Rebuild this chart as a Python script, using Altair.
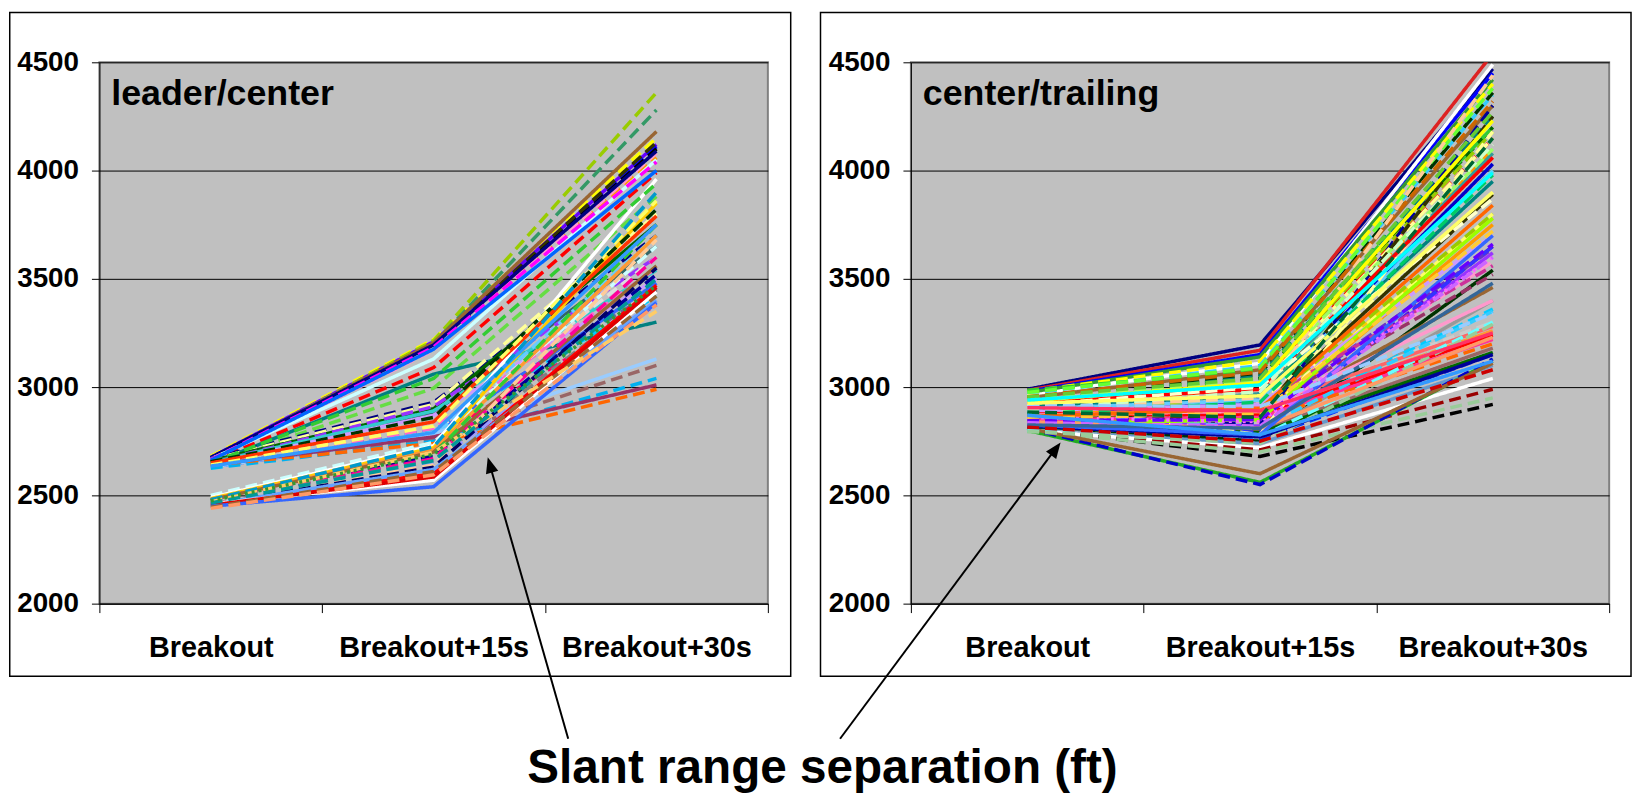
import altair as alt
import pandas as pd

CATEGORIES = ["Breakout", "Breakout+15s", "Breakout+30s"]
Y_TICKS = [2000, 2500, 3000, 3500, 4000, 4500]

# ---- leader/center panel: one value per series at each category ----
LC_BREAKOUT = [2680, 2675, 2670, 2672, 2668, 2665, 2660, 2670, 2665, 2660, 2675, 2668, 2655, 2645, 2645,
               2670, 2665, 2660, 2655, 2650, 2650, 2645, 2640, 2625, 2630, 2640, 2625, 2635, 2630, 2630,
               2635, 2625, 2640, 2640, 2500, 2490, 2485, 2480, 2480, 2475, 2470, 2475, 2470, 2465, 2465,
               2460, 2460, 2458, 2460, 2455, 2450, 2445, 2440, 2665, 2662, 2650, 2655, 2650, 2640, 2635,
               2480, 2470, 2465, 2475]
LC_PLUS15 = [3220, 3210, 3200, 3195, 3190, 3215, 3200, 3205, 3180, 3170, 3195, 3130, 3090, 2995, 3060,
             2930, 2920, 2900, 2880, 2910, 2890, 2870, 2800, 2800, 2780, 2760, 2790, 2810, 2770, 2785,
             2765, 2750, 2740, 2770, 2745, 2730, 2720, 2710, 2700, 2690, 2680, 2670, 2660, 2650, 2640,
             2630, 2600, 2620, 2570, 2585, 2540, 2610, 2595, 3185, 3175, 3040, 2860, 2840, 2820, 2790,
             2725, 2700, 2660, 2690]
LC_PLUS30 = [4150, 4120, 4110, 4130, 4100, 4360, 4280, 4180, 4060, 4080, 4090, 4050, 3990, 3880, 3300,
             3700, 3800, 3750, 3650, 3600, 3540, 3500, 3450, 3420, 3480, 3380, 3600, 3550, 3700, 3130,
             3100, 3040, 2990, 3010, 3650, 3960, 3850, 3700, 3560, 3750, 3520, 3600, 3450, 3400, 3680,
             3550, 3470, 3400, 3440, 3460, 3390, 3420, 3380, 4040, 4000, 3940, 3820, 3790, 3860, 3750,
             3900, 3350, 3500, 3470]
LC_COLORS = ["#FFFF00", "#6600FF", "#0000FF", "#333300", "#000000", "#99CC00", "#339966", "#996633",
             "#FF9900", "#FF99CC", "#000080", "#CCFFFF", "#FF0000", "#66DD44", "#008080", "#000080",
             "#FFFF99", "#006600", "#336666", "#9933FF", "#33CCCC", "#CC99FF", "#666699", "#00CCFF",
             "#3366FF", "#FF0066", "#DDDDDD", "#FF66CC", "#66CCFF", "#99CCFF", "#996666", "#00B0F0",
             "#FF6600", "#993366", "#CCFFFF", "#FFFFFF", "#FFCC00", "#FF9933", "#996633", "#33CC33",
             "#000099", "#FF0099", "#808080", "#9999FF", "#FFCC99", "#000066", "#FF0000", "#66A3FF",
             "#FFFFFF", "#E00000", "#3366FF", "#996633", "#FF9966", "#FF00FF", "#0066FF", "#33CC33",
             "#003300", "#FF3300", "#FFFF66", "#3399FF", "#0099CC", "#FFCC66", "#009999", "#339933"]
LC_STYLES = ["dash", "solid", "dash", "dash", "dash", "dash", "dash", "solid", "dash", "dash", "solid",
             "solid", "dash", "dash", "solid", "dash", "dash", "solid", "solid", "dash", "solid", "solid",
             "dash", "dash", "solid", "dash", "dash", "dash", "dash", "solid", "dash", "dash", "dash",
             "solid", "dash", "solid", "solid", "solid", "solid", "dash", "dash", "dash", "dash", "dash",
             "dash", "dash", "solid", "solid", "solid", "solid", "solid", "dash", "dash", "dash", "solid",
             "dash", "dash", "solid", "dash", "solid", "dash", "dash", "dash", "dot"]

# ---- center/trailing panel ----
CT_BREAKOUT = [2990, 2985, 2980, 2965, 2975, 2980, 2970, 2945, 2950, 2930, 2920, 2910, 2900, 2890, 2880,
               2870, 2860, 2880, 2850, 2840, 2870, 2830, 2900, 2830, 2850, 2820, 2840, 2810, 2815, 2820,
               2800, 2860, 2870, 2880, 2850, 2900, 2830, 2845, 2815, 2800, 2800, 2800, 2810, 2795, 2800,
               2810, 2810, 2860, 2870, 2880, 2850, 2900, 2960, 2945, 2985, 2910, 2890, 2900, 2840, 2920,
               2950, 2890, 2830, 2800, 2870, 2795, 2820, 2840, 2930, 2975, 2955, 2915, 2860, 2825, 2905,
               2935, 2895, 2875, 2865, 2855, 2845, 2835, 2825, 2915, 2905, 2925, 2885, 2955, 2940, 2870,
               2815]
CT_PLUS15 = [3195, 3170, 3150, 3110, 3140, 3120, 3100, 3060, 3080, 3050, 3040, 3020, 3010, 2990, 2970,
             2960, 2940, 2950, 2920, 2900, 2880, 2860, 2850, 2800, 2820, 2750, 2870, 2840, 2780, 2830,
             2900, 2910, 2880, 2870, 2860, 2850, 2800, 2760, 2790, 2740, 2720, 2710, 2680, 2700, 2560,
             2550, 2600, 2900, 2880, 2830, 2790, 2930, 3000, 3030, 3080, 2960, 2920, 2940, 2860, 2780,
             2900, 2810, 2850, 2770, 2890, 2740, 2770, 2810, 2990, 3090, 3070, 3000, 2840, 2780, 2950,
             3020, 2980, 2930, 2900, 2880, 2850, 2820, 2810, 2910, 2890, 2960, 2860, 3040, 3010, 2780,
             2750]
CT_PLUS30 = [4470, 4540, 4450, 4490, 4420, 4400, 4350, 4360, 4300, 4250, 4200, 4180, 4150, 4100, 4080,
             4000, 4030, 3950, 3900, 3890, 3780, 3800, 3750, 3650, 3620, 3540, 3460, 3580, 3400, 3360,
             3300, 3280, 3260, 3240, 3220, 3200, 3180, 3150, 3160, 3100, 3040, 2990, 2920, 2950, 3120,
             3130, 3110, 3520, 3640, 4300, 3650, 3560, 4150, 4100, 4200, 3950, 3700, 4000, 4250, 4180,
             3800, 3350, 3780, 3300, 3400, 3290, 3150, 3230, 4060, 4380, 4320, 3870, 3600, 3700, 4440,
             4230, 4120, 3980, 3840, 3720, 3660, 3600, 3480, 3340, 3250, 3900, 4150, 4270, 3990, 3120,
             3080]
CT_COLORS = ["#000080", "#DD2222", "#0000FF", "#FFFFFF", "#339933", "#FFFF00", "#33CCFF", "#003300",
             "#996633", "#008080", "#006600", "#99CC00", "#FF0000", "#FF9900", "#339999", "#33CC33",
             "#0000CC", "#99FF99", "#FFFF99", "#333300", "#FFCC00", "#FFFF66", "#FF9900", "#6600CC",
             "#9933FF", "#003300", "#996633", "#FF99CC", "#999999", "#00CCFF", "#CCCCCC", "#FF6666",
             "#FF9933", "#FF0000", "#FF3399", "#FF6600", "#996666", "#0033FF", "#006600", "#6699CC",
             "#FFFFFF", "#990000", "#000000", "#99CC99", "#22AA22", "#0000CC", "#996633", "#993366",
             "#6633CC", "#000099", "#3333FF", "#CC3399", "#FFFF99", "#99FF66", "#33CC33", "#008080",
             "#CC99FF", "#66CCFF", "#333300", "#FFFF99", "#99CC00", "#33CCFF", "#99FF00", "#66FFFF",
             "#FF99CC", "#99CC99", "#000099", "#FF9966", "#FF0000", "#66FF33", "#CC6600", "#FFFFCC",
             "#FF66FF", "#3366FF", "#FFCC99", "#FFFF00", "#CCFFCC", "#00CC66", "#FF6600", "#FFCC33",
             "#6600FF", "#CC66FF", "#336699", "#99CCFF", "#FF3366", "#FFFF66", "#006633", "#66CC33",
             "#00FFFF", "#3399FF", "#CC0000"]
CT_STYLES = ["solid", "solid", "solid", "solid", "solid", "dash", "dash", "dash", "solid", "dash", "dash",
             "dash", "dash", "dash", "solid", "dash", "solid", "dash", "dash", "solid", "solid", "dash",
             "solid", "dash", "solid", "solid", "solid", "dash", "solid", "dash", "dash", "solid", "solid",
             "solid", "solid", "dash", "solid", "dash", "solid", "solid", "solid", "dash", "dash", "dash",
             "solid", "dash", "solid", "dash", "dash", "dash", "dash", "dash", "dash", "dash", "dash",
             "solid", "solid", "solid", "dash", "dash", "dash", "dash", "solid", "dash", "solid", "dash",
             "solid", "solid", "solid", "dash", "dash", "dash", "dot", "solid", "dash", "solid", "dash",
             "dash", "solid", "dash", "dash", "dash", "solid", "dash", "solid", "solid", "dash", "dash",
             "solid", "solid", "dash"]

PANEL_TITLES = ["leader/center", "center/trailing"]
MAIN_TITLE = "Slant range separation (ft)"

FONT = "Liberation Sans, Arial, Helvetica, sans-serif"
STYLE_DOMAIN = ["solid", "dash", "dot"]
STYLE_RANGE = [[1, 0], [12, 6], [3, 4]]
HEAD = "M0,0L0.4,1L-0.4,1Z"


def long_table(prefix, b, m, e, styles):
    rows = []
    for i, vals in enumerate(zip(b, m, e)):
        for c, v in zip(CATEGORIES, vals):
            rows.append({"sid": f"{prefix}{i:03d}", "cat": c, "value": v, "style": styles[i]})
    return pd.DataFrame(rows)


def one():
    return alt.Chart(pd.DataFrame({"k": [0]}))


def panel(prefix, title, b, m, e, colors, styles, width, box, arrow, extra=None):
    df = long_table(prefix, b, m, e, styles)
    sids = [f"{prefix}{i:03d}" for i in range(len(b))]
    lines = alt.Chart(df).mark_line(strokeWidth=3.5, clip=True).encode(
        x=alt.X("cat:N", sort=CATEGORIES, bandPosition=0.5,
                scale=alt.Scale(type="band", domain=CATEGORIES, paddingInner=0, paddingOuter=0),
                axis=alt.Axis(title=None, labelAngle=0, tickBand="extent", tickSize=9, tickColor="black",
                              domainColor="black", grid=False, labelFont=FONT, labelFontSize=29,
                              labelFontWeight="bold", labelColor="black", labelPadding=21, labelLimit=400)),
        y=alt.Y("value:Q", scale=alt.Scale(domain=[2000, 4500], nice=False, zero=False),
                axis=alt.Axis(values=Y_TICKS, title=None, grid=True, gridColor="black", gridWidth=1,
                              gridOpacity=1, domainColor="black", tickColor="black", tickSize=8,
                              labelFont=FONT, labelFontSize=28, labelFontWeight="bold",
                              labelColor="black", labelPadding=13, format="d")),
        color=alt.Color("sid:N", scale=alt.Scale(domain=sids, range=colors), legend=None),
        strokeDash=alt.StrokeDash("style:N", scale=alt.Scale(domain=STYLE_DOMAIN, range=STYLE_RANGE),
                                  legend=None),
        detail="sid:N",
    )
    frame = one().mark_rect(fill="transparent", stroke="black", strokeWidth=1.5).encode(
        x=alt.value(box[0]), x2=alt.value(box[1]), y=alt.value(box[2]), y2=alt.value(box[3]))
    label = alt.Chart(pd.DataFrame({"t": [title]})).mark_text(
        align="left", baseline="alphabetic", font=FONT, fontSize=36, fontWeight="bold", color="black"
    ).encode(text="t:N", x=alt.value(12), y=alt.value(43.3))
    tx, ty, bx, by, tipx, tipy, ang = arrow
    shaft = one().mark_rule(color="black", strokeWidth=2).encode(
        x=alt.value(tx), y=alt.value(ty), x2=alt.value(bx), y2=alt.value(by))
    head = one().mark_point(shape=HEAD, filled=True, color="black", opacity=1, size=1024,
                            angle=ang, strokeWidth=0).encode(x=alt.value(tipx), y=alt.value(tipy))
    layers = [frame, lines, label, shaft, head]
    if extra is not None:
        layers.append(extra)
    return alt.layer(*layers).properties(width=width, height=545)


main_title = alt.Chart(pd.DataFrame({"t": [MAIN_TITLE]})).mark_text(
    align="center", baseline="alphabetic", font=FONT, fontSize=48, fontWeight="bold", color="black"
).encode(text="t:N", x=alt.value(728), y=alt.value(726))

left = panel("a", PANEL_TITLES[0], LC_BREAKOUT, LC_PLUS15, LC_PLUS30, LC_COLORS, LC_STYLES, 673,
             (-90.25, 696, -50.25, 618), (472, 681, 394, 408.5, 391, 397.7, 344.05), main_title)
right = panel("b", PANEL_TITLES[1], CT_BREAKOUT, CT_PLUS15, CT_PLUS30, CT_COLORS, CT_STYLES, 703,
              (-91, 725, -50.25, 618), (-71.3, 681, 143.5, 392, 150.7, 382.7, 36.66))

chart = alt.hconcat(left, right, spacing=144, bounds="flush").resolve_scale(
    color="independent", strokeDash="independent", x="independent", y="independent"
).properties(
    padding={"left": 0, "top": 0, "right": 0, "bottom": 0}
).configure_view(fill="#C0C0C0", stroke="#808080", strokeWidth=2)

chart.save("out.html", embed_options={"renderer": "svg", "actions": False})
